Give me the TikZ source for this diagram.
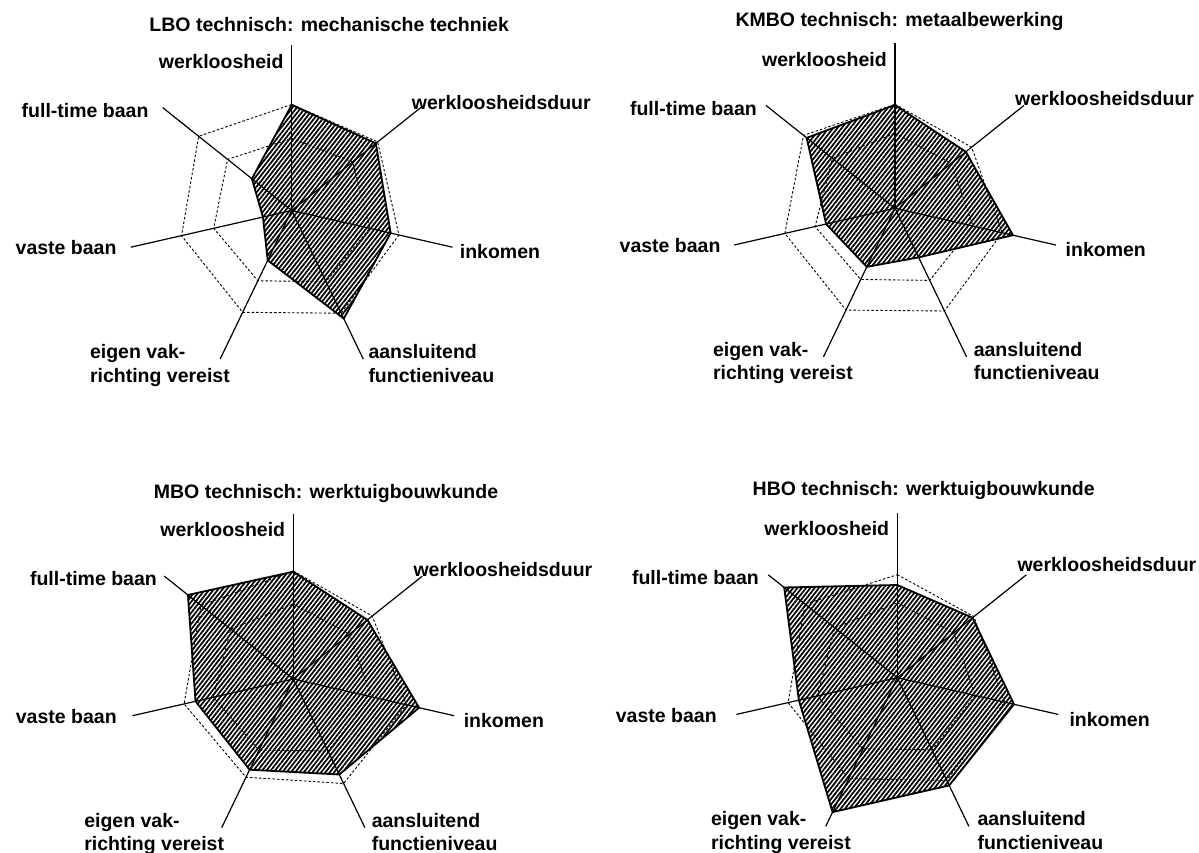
\documentclass[tikz,border=0pt]{standalone}
\usepackage{fontspec}
\setmainfont{Liberation Sans}
\usetikzlibrary{patterns.meta}
\newcommand\hept[7]{(90:#1) -- (38.571:#2) -- (-12.857:#3) -- (-64.286:#4) -- (-115.714:#5) -- (-167.143:#6) -- (141.429:#7) -- cycle}
\tikzset{
  refline/.style={line width=0.9pt, dash pattern=on 2.5pt off 2pt},
  profile/.style={line width=1.8pt, line join=miter, pattern={Lines[angle=52,distance=3.4pt,line width=1.75pt]}},
  axisline/.style={line width=1.2pt},
  lab/.style={inner sep=0pt, font=\bfseries\fontsize{19.5}{23.5}\selectfont},
  ttl/.style={inner sep=0pt, font=\bfseries\fontsize{19.5}{23.5}\selectfont},
}
% #1 prefix, #2 eigen-vak right edge, #3 full-time right edge, #4 vaste baan right edge,
% #5 inkomen left edge, #6 aansluitend left edge, #7 werkloosheidsduur y
\newcommand\axes[7]{%
  \coordinate (#1c) at (0,0);
  \coordinate (#1a1) at (90:165);
  \coordinate (#1a2) at (38.571:165);
  \coordinate (#1a3) at (-12.857:165);
  \coordinate (#1a4) at (-64.286:165);
  \coordinate (#1a5) at (-115.714:165);
  \coordinate (#1a6) at (-167.143:165);
  \coordinate (#1a7) at (141.429:165);
  \foreach \i in {1,...,7} \draw[axisline] (#1c) -- (#1a\i);
  \node[lab, anchor=east] (#1l1) at (-8,149) {werkloosheid};
  \node[lab, anchor=west] (#1l2) at (120,#7) {werkloosheidsduur};
  \node[lab, anchor=west] (#1l3) at (#5,-41.5) {inkomen};
  \node[lab, anchor=north west, align=left] (#1l4) at (#6,-133.7) {aansluitend\\functieniveau};
  \node[lab, anchor=north east, align=left] (#1l5) at (#2,-133.7) {eigen vak-\\richting vereist};
  \node[lab, anchor=east] (#1l6) at (#4,-37.5) {vaste baan};
  \node[lab, anchor=east] (#1l7) at (#3,100) {full-time baan};
}
\begin{document}
\begin{tikzpicture}[x=1pt,y=1pt]
\useasboundingbox (0,0) rectangle (1199,852);
% chart 1
\begin{scope}[shift={(291.7,641.5)}]
  \draw[refline] \hept{106}{110}{110}{114}{113}{113}{119};
  \draw[refline] \hept{72}{78}{80}{79}{78}{80}{82};
  \draw[profile] \hept{105.7}{107.7}{101.5}{120}{55.3}{29.5}{50.9};
  \axes{A}{-61.7}{-143}{-175}{168}{76.6}{107.5}
  \node[ttl] (At) at (37.5,186) {LBO technisch: mechanische techniek};
\end{scope}
% chart 2
\begin{scope}[shift={(895,643.7)}]
  \draw[refline] \hept{104}{98}{110}{114}{113}{113}{117};
  \draw[refline] \hept{75}{72}{80}{80}{79}{82}{80};
  \draw[profile] \hept{103.3}{90.6}{121}{54.5}{65}{70.7}{113};
  \axes{B}{-42}{-138}{-174.3}{170.5}{78.6}{110}
  \node[ttl] (Bt) at (4.5,186.6) {KMBO technisch: metaalbewerking};
\end{scope}
% chart 3
\begin{scope}[shift={(293.3,173)}]
  \draw[refline] \hept{108}{101}{116}{116}{109}{112}{118};
  \draw[refline] \hept{75}{72}{80}{80}{79}{82}{80};
  \draw[profile] \hept{107.3}{94.8}{129}{106}{100.7}{100.3}{134.8};
  \axes{C}{-69}{-136.3}{-176.4}{170.3}{78.3}{109}
  \node[ttl] (Ct) at (32.7,185.7) {MBO technisch: werktuigbouwkunde};
\end{scope}
% chart 4
\begin{scope}[shift={(897.3,174.3)}]
  \draw[refline] \hept{103}{98}{110}{114}{112}{112}{118};
  \draw[refline] \hept{75}{72}{80}{80}{79}{82}{80};
  \draw[profile] \hept{92.7}{96.2}{119.7}{119.6}{149.2}{101}{144.7};
  \axes{D}{-46.3}{-138.3}{-180.4}{172}{80}{113}
  \node[ttl] (Dt) at (26.4,187.5) {HBO technisch: werktuigbouwkunde};
\end{scope}
\end{tikzpicture}
\end{document}
